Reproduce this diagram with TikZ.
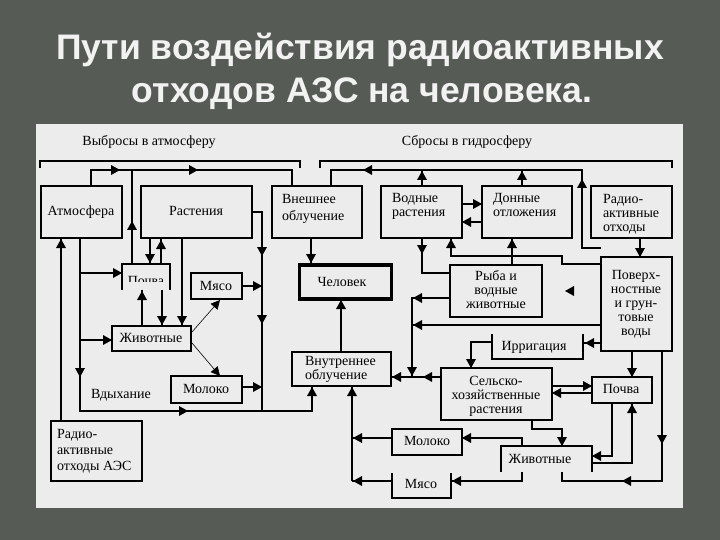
\documentclass[tikz,border=0pt]{standalone}
\usepackage{fontspec}
\setmainfont{Liberation Serif}
\newfontfamily\titlefont{Liberation Sans}
\usetikzlibrary{arrows.meta}
\definecolor{bg}{RGB}{87,91,85}
\definecolor{panel}{RGB}{236,236,236}
\definecolor{ttl}{RGB}{242,242,242}
\newcommand\bxn[5]{\node[bx,minimum width=#4pt,minimum height=#5pt] (#1) at (#2,#3) {};}
\begin{document}
\begin{tikzpicture}[x=1pt,y=-1pt,
  ln/.style={line width=1.1pt},
  thin/.style={line width=0.6pt,-{Triangle[length=9pt,width=9pt]}},
  bx/.style={draw,line width=1.1pt,inner sep=0pt,outer sep=0pt,anchor=north west},
  t/.style={inner sep=0pt,outer sep=0pt,font=\fontsize{14}{14}\selectfont},
  tl/.style={t,anchor=base west},
  tc/.style={t,anchor=base},
  arR/.pic={\fill (0,0)--(-9,-5)--(-9,5)--cycle;},
  arL/.pic={\fill (0,0)--(9,-5)--(9,5)--cycle;},
  arD/.pic={\fill (0,0)--(-5,-9)--(5,-9)--cycle;},
  arU/.pic={\fill (0,0)--(-5,9)--(5,9)--cycle;},
]
\useasboundingbox (0,0) rectangle (720,540);
\fill[bg] (0,0) rectangle (720,540);
\fill[panel] (36,124) rectangle (683,508);

% title
\node[text=ttl,font=\titlefont\bfseries\fontsize{35.5}{40}\selectfont,anchor=base,inner sep=0] (title1) at (360,60) {Пути воздействия радиоактивных};
\node[text=ttl,font=\titlefont\bfseries\fontsize{35.5}{40}\selectfont,anchor=base,inner sep=0] (title2) at (362,103) {отходов АЗС на человека.};

% headings
\node[tc] (hAtm) at (149,146) {Выбросы в атмосферу};
\node[tc] (hHyd) at (467,146) {Сбросы в гидросферу};

% boxes
\bxn{atm}{41}{186}{81}{52}
\bxn{rast}{141}{186}{111}{52}
\bxn{vnesh}{272}{186}{90}{52}
\bxn{vodn}{381}{186}{81}{52}
\bxn{donn}{482}{186}{90}{52}
\bxn{radR}{591}{186}{81}{52}
\bxn{myasoL}{191}{273}{51}{26}
\bxn{zhivL}{112}{326}{79}{25}
\bxn{molL}{171}{376}{71}{27}
\bxn{radL}{51}{421}{91}{60}
\node[draw,line width=3.6pt,inner sep=0pt,outer sep=0pt,anchor=north west,minimum width=92pt,minimum height=34pt] (chel) at (299.5,265) {};
\bxn{vnutr}{292}{352}{99}{34}
\bxn{ryba}{450}{265}{92}{52}
\bxn{poverh}{601}{257}{71}{94}
\bxn{selsk}{441}{368}{111}{52}
\bxn{pochR}{592}{377}{60}{26}
\bxn{molR}{392}{429}{70}{26}
% open boxes
\draw[ln] (122,290) -- (122,264) -- (170,264) -- (170,290);
\draw[ln] (392,473) -- (392,498) -- (451,498) -- (451,473);
\draw[ln] (501,472) -- (501,446) -- (592,446) -- (592,472);
\draw[ln] (492,334) -- (492,359) -- (583,359) -- (583,334);
\draw[line width=2.8pt] (583,334) -- (583,353);

% texts
\node[tc] (atmT) at (81,215) {Атмосфера};
\node[tc] (rastT) at (196,215) {Растения};
\node[tl] (vneshA) at (282,204) {Внешнее};
\node[tl] (vneshB) at (282,221) {облучение};
\node[tl] (vodnA) at (392,203) {Водные};
\node[tl] (vodnB) at (392,216) {растения};
\node[tl] (donnA) at (493,203) {Донные};
\node[tl] (donnB) at (493,216) {отложения};
\node[tl] (radRA) at (603,204) {Радио-};
\node[tl] (radRB) at (603,218) {активные};
\node[tl] (radRC) at (603,232) {отходы};
\begin{scope}
\clip (123,265) rectangle (169,281);
\node[tc] (pochLT) at (146,285) {Почва};
\end{scope}
\node[tc] (myasoLT) at (216,290) {Мясо};
\node[tc] (zhivLT) at (151,342) {Животные};
\node[tc] (molLT) at (206,393) {Молоко};
\node[tl] (vdyh) at (91,398) {Вдыхание};
\node[tl] (radLA) at (57,438) {Радио-};
\node[tl] (radLB) at (57,454) {активные};
\node[tl] (radLC) at (57,470) {отходы АЭС};
\node[tc] (chelT) at (342,286) {Человек};
\node[tl] (vnutrA) at (305,365) {Внутреннее};
\node[tl] (vnutrB) at (305,379) {облучение};
\node[tc] (rybaA) at (496,280) {Рыба и};
\node[tc] (rybaB) at (496,294) {водные};
\node[tc] (rybaC) at (496,308) {животные};
\node[tc] (povA) at (636,279) {Поверх-};
\node[tc] (povB) at (636,293) {ностные};
\node[tc] (povC) at (636,307) {и грун-};
\node[tc] (povD) at (636,321) {товые};
\node[tc] (povE) at (636,335) {воды};
\node[tc] (irrT) at (534,350) {Ирригация};
\node[tc] (selA) at (496,385) {Сельско-};
\node[tc] (selB) at (496,399) {хозяйственные};
\node[tc] (selC) at (496,413) {растения};
\node[tc] (pochRT) at (621,393) {Почва};
\node[tc] (molRT) at (427,445) {Молоко};
\node[tc] (myasoRT) at (421,488) {Мясо};
\node[tc] (zhivRT) at (540,463) {Животные};

% ---- connectors: top
\draw[ln] (40,168) -- (40,161) -- (300,161) -- (300,168);
\draw[ln] (320,168) -- (320,161) -- (672,161) -- (672,168);
\draw[ln] (91,186) -- (91,170) -- (292,170) -- (292,186);
\pic at (120,170) {arR}; \pic at (198,170) {arR};
\draw[ln] (132,264) -- (132,170); \pic at (132,221) {arU};
\draw[ln] (331,186) -- (331,170) -- (582,170) -- (582,248) -- (601,248);
\pic at (363,170) {arL}; \pic at (582,179) {arU};
\draw[ln] (422,186) -- (422,170); \pic at (422,171) {arU};
\draw[ln] (522,186) -- (522,170); \pic at (522,171) {arU};

% ---- left part
\draw[ln] (61,421) -- (61,238); \pic at (61,239) {arU};
\draw[ln] (80,238) -- (80,411) -- (312,411) -- (312,386);
\pic at (80,377) {arD}; \pic at (188,411) {arR}; \pic at (312,387) {arU};
\draw[ln] (80,273) -- (122,273); \pic at (122,273) {arR};
\draw[ln] (80,340) -- (112,340); \pic at (112,340) {arR};
\draw[ln] (150,238) -- (150,264); \pic at (150,263) {arD};
\draw[ln] (161,264) -- (161,238); \pic at (161,240) {arU};
\draw[ln] (182,238) -- (182,326); \pic at (182,325) {arD};
\draw[ln] (142,326) -- (142,290); \pic at (142,291) {arU};
\draw[ln] (162,290) -- (162,326); \pic at (162,325) {arD};
\draw[thin] (192,332) -- (220,300);
\draw[thin] (192,343) -- (220,376);
\draw[ln] (252,212) -- (262,212) -- (262,411);
\pic at (262,256) {arD}; \pic at (262,324) {arD};
\draw[ln] (242,286) -- (262,286); \pic at (262,286) {arR};
\draw[ln] (242,387) -- (262,387); \pic at (262,387) {arR};

% ---- middle
\draw[ln] (311,238) -- (311,263); \pic at (311,263) {arD};
\draw[line width=2pt] (341,352) -- (341,305); \pic at (341,300) {arU};
\draw[ln] (352,481) -- (352,386); \pic at (352,387) {arU};
\draw[ln] (392,438) -- (352,438); \pic at (353,438) {arL};
\draw[ln] (392,481) -- (352,481); \pic at (353,481) {arL};
\draw[ln] (422,238) -- (422,273) -- (450,273); \pic at (422,254) {arD};
\draw[ln] (462,204) -- (482,204); \pic at (482,204) {arR};
\draw[ln] (482,222) -- (462,222); \pic at (462,222) {arL};
\draw[ln] (512,265) -- (512,238); \pic at (512,239) {arU};
\draw[ln] (601,264) -- (562,264) -- (562,256) -- (451,256) -- (451,238); \pic at (451,239) {arU};
\draw[ln] (450,298) -- (412,298) -- (412,377); \pic at (413,298) {arL}; \pic at (412,376) {arD};
\draw[ln] (601,325) -- (412,325); \pic at (413,325) {arL};
\draw[ln] (441,377) -- (391,377); \pic at (392,377) {arL}; \pic at (423,377) {arL};
\pic at (565,291) {arL};

% ---- right part
\draw[ln] (492,342) -- (471,342) -- (471,368); \pic at (471,368) {arD};
\draw[ln] (601,343) -- (584,343); \pic at (585,343) {arL};
\draw[ln] (552,386) -- (592,386); \pic at (592,386) {arR};
\draw[ln] (592,393) -- (552,393); \pic at (552,393) {arL};
\draw[ln] (632,351) -- (632,377); \pic at (632,377) {arD};
\draw[ln] (640,238) -- (640,257); \pic at (640,257) {arD};
\draw[ln] (532,420) -- (532,429) -- (562,429) -- (562,446); \pic at (562,446) {arD};
\draw[ln] (522,446) -- (522,438) -- (462,438); \pic at (462,438) {arL};
\draw[ln] (522,472) -- (522,481) -- (451,481); \pic at (452,481) {arL};
\draw[ln] (612,403) -- (612,456) -- (592,456); \pic at (592,456) {arL};
\draw[ln] (592,463) -- (632,463) -- (632,403); \pic at (632,404) {arU};
\draw[ln] (662,351) -- (662,481) -- (562,481) -- (562,472);
\pic at (662,444) {arD}; \pic at (622,481) {arL};
\end{tikzpicture}
\end{document}
